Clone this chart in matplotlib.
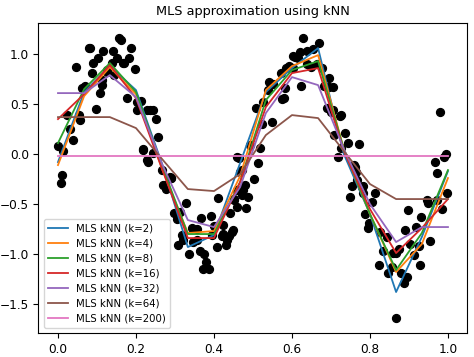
import matplotlib
matplotlib.use("Agg")
import matplotlib.pyplot as plt

# noisy samples
pts_x = [
    0.157, 0.162, 0.082, 0.116, 0.140, 0.187, 0.103, 0.091, 0.152, 0.182, 0.166, 0.046, 0.138,
    0.197, 0.086, 0.125, 0.144, 0.112, 0.069, 0.062, 0.108, 0.176, 0.203, 0.097, 0.203, 0.227,
    0.022, 0.054, 0.056, 0.031, 0.038, 0.001, 0.014, 0.219, 0.227, 0.232, 0.011, 0.008, 0.112,
    0.125, 0.212, 0.236, 0.244, 0.251, 0.257, 0.217, 0.290, 0.274, 0.080, 0.168, 0.244,
    0.266, 0.270, 0.277, 0.291, 0.287, 0.298, 0.304, 0.313, 0.309, 0.317, 0.321, 0.328, 0.337,
    0.343, 0.347, 0.357, 0.364, 0.368, 0.375, 0.379, 0.373, 0.387, 0.392, 0.394, 0.400, 0.407,
    0.411, 0.420, 0.424, 0.434, 0.439, 0.432, 0.424, 0.441, 0.445, 0.449, 0.452, 0.458, 0.460,
    0.463, 0.460, 0.467, 0.471, 0.471, 0.475, 0.479, 0.482, 0.488, 0.503, 0.512, 0.492, 0.518,
    0.451, 0.356,
    0.627, 0.670, 0.655, 0.639, 0.621, 0.608, 0.616, 0.602, 0.593, 0.602, 0.585, 0.572, 0.638,
    0.650, 0.663, 0.676, 0.683, 0.696, 0.623, 0.541, 0.552, 0.538, 0.582, 0.574, 0.580, 0.526,
    0.509, 0.522, 0.548, 0.689, 0.699, 0.709, 0.717, 0.696, 0.704, 0.723, 0.727, 0.706,
    0.773, 0.736, 0.727, 0.744, 0.762, 0.753, 0.781, 0.759, 0.764, 0.750, 0.766, 0.779, 0.783,
    0.813, 0.804, 0.787, 0.798, 0.796, 0.826, 0.843, 0.834, 0.824, 0.845, 0.856, 0.860, 0.867,
    0.875, 0.879, 0.886, 0.896, 0.868, 0.898, 0.890, 0.903, 0.913, 0.918, 0.926, 0.928, 0.932,
    0.945, 0.950, 0.954, 0.971, 0.984, 0.998, 0.979, 0.994, 0.967, 0.990, 0.971,
]
pts_y = [
    1.16, 1.14, 1.06, 1.03, 1.03, 1.06, 0.96, 0.91, 0.96, 0.96, 0.91, 0.87, 0.91,
    0.85, 0.81, 0.82, 0.79, 0.69, 0.68, 0.66, 0.61, 0.56, 0.52, 0.45, 0.44, 0.44,
    0.39, 0.39, 0.34, 0.25, 0.14, 0.08, 0.03, 0.04, -0.06, -0.08, -0.21, -0.29, 0.74,
    0.84, 0.53, 0.44, 0.44, 0.35, 0.17, 0.05, -0.24, -0.31, 1.06, 0.91, 0.01,
    -0.16, -0.31, -0.35, -0.24, -0.23, -0.59, -0.65, -0.58, -0.91, -0.81, -0.86, -0.49, -1.00,
    -0.74, -0.88, -0.86, -0.97, -0.64, -1.00, -1.08, -1.15, -1.15, -0.62, -0.81, -0.72, -0.93,
    -0.44, -0.82, -0.80, -0.86, -0.82, -0.91, -0.71, -0.59, -0.78, -0.76, -0.45, -0.36, -0.03,
    -0.04, -0.53, -0.18, -0.16, -0.41, -0.36, -0.31, -0.54, -0.43, -0.25, -0.09, 0.09, 0.06,
    -0.46, -0.75,
    1.16, 1.11, 1.05, 1.03, 1.02, 0.97, 0.96, 0.98, 0.88, 0.86, 0.86, 0.81, 0.90,
    0.87, 0.90, 0.86, 0.68, 0.67, 0.68, 0.72, 0.70, 0.64, 0.66, 0.55, 0.56, 0.52,
    0.46, 0.30, 0.32, 0.46, 0.42, 0.19, -0.03, 0.76, 0.67, 0.38, 0.39, 0.44,
    0.10, 0.21, 0.06, 0.11, -0.13, -0.32, -0.32, -0.11, -0.18, -0.43, -0.26, -0.33, -0.39,
    -0.39, -0.48, -0.60, -0.69, -0.74, -0.78, -0.83, -0.97, -1.11, -1.19, -1.13, -0.99, -0.99,
    -0.95, -1.19, -1.29, -1.23, -1.64, -0.56, -0.76, -0.90, -1.01, -0.73, -0.92, -1.11, -0.63,
    -0.46, -0.49, -0.87, -0.46, -0.55, -0.39, 0.42, 0.00, -0.08, -0.03, -0.19,
]

# evaluation grid and fitted values per k
grid_x = [0.0, 0.067, 0.133, 0.2, 0.267, 0.333, 0.4, 0.467,
          0.533, 0.6, 0.667, 0.733, 0.8, 0.867, 0.933, 1.0]
k_values = [2, 4, 8, 16, 32, 64, 200]
fit_k2 = [-0.08, 0.62, 0.88, 0.64, -0.10, -0.93, -0.81, -0.09, 0.62, 0.86, 1.06, 0.00, -0.60, -1.38, -0.83, -0.17]
fit_k4 = [-0.11, 0.58, 0.87, 0.60, -0.15, -0.79, -0.77, -0.22, 0.64, 0.88, 0.99, 0.05, -0.60, -1.18, -0.90, -0.24]
fit_k8 = [0.11, 0.65, 0.91, 0.62, -0.12, -0.80, -0.80, -0.28, 0.54, 0.84, 0.93, 0.05, -0.60, -1.16, -0.79, -0.16]
fit_k16 = [0.35, 0.60, 0.89, 0.56, -0.15, -0.84, -0.84, -0.28, 0.47, 0.81, 0.86, 0.03, -0.55, -0.99, -0.74, -0.45]
fit_k32 = [0.61, 0.61, 0.79, 0.57, -0.10, -0.66, -0.73, -0.33, 0.41, 0.77, 0.69, 0.05, -0.50, -0.88, -0.73, -0.73]
fit_k64 = [0.37, 0.37, 0.37, 0.26, -0.05, -0.35, -0.37, -0.20, 0.19, 0.39, 0.36, 0.03, -0.30, -0.45, -0.45, -0.45]
fit_k200 = [-0.02] * 16
fits = [fit_k2, fit_k4, fit_k8, fit_k16, fit_k32, fit_k64, fit_k200]

fig = plt.figure(figsize=(4.74, 3.57), dpi=100)
ax = fig.add_axes([0.0812, 0.0672, 0.905, 0.868])

ax.scatter(pts_x, pts_y, color="black", s=32)
for k, fit in zip(k_values, fits):
    ax.plot(grid_x, fit, linewidth=1.3, label=f"MLS kNN (k={k})")

ax.set_xlim(-0.05, 1.05)
ax.set_ylim(-1.79, 1.31)
ax.set_xticks([0.0, 0.2, 0.4, 0.6, 0.8, 1.0])
ax.set_yticks([-1.5, -1.0, -0.5, 0.0, 0.5, 1.0])
ax.tick_params(labelsize=8.7)
ax.set_title("MLS approximation using kNN", fontsize=9.3)
ax.legend(loc="lower left", fontsize=7.3)

fig.savefig("out.png", dpi=100)
plt.close(fig)
